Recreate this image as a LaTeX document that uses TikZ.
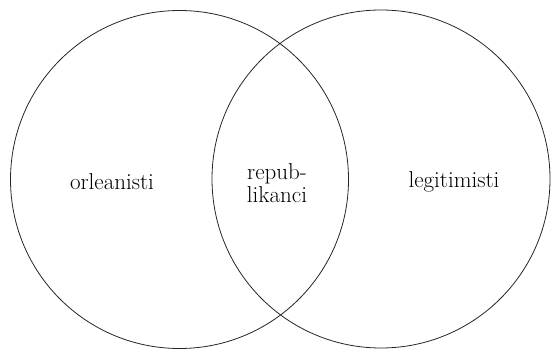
\documentclass[tikz,border=0pt]{standalone}
\begin{document}
\begin{tikzpicture}[x=1pt,y=-1pt,
  setcircle/.style={draw=black!85, line width=0.8pt},
  setlabel/.style={font=\fontsize{23}{23.5}\selectfont, inner sep=0pt, align=center}]
  \useasboundingbox (0,0) rectangle (551,350);
  % two overlapping sets
  \node[setcircle, circle, minimum size=338pt, inner sep=0pt] (left) at (179.5,179.5) {};
  \node[setcircle, circle, minimum size=338pt, inner sep=0pt] (right) at (381,179) {};
  % labels
  \node[setlabel] (orl) at (112,182) {orleanisti};
  \node[setlabel] (rep) at (277,183) {repub-\\likanci};
  \node[setlabel] (leg) at (454,182) {legitimisti};
\end{tikzpicture}
\end{document}
